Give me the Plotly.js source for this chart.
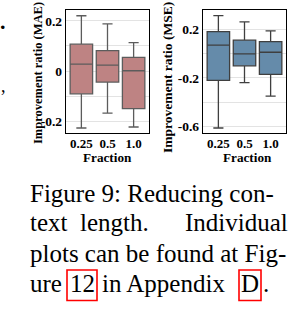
<!DOCTYPE html>
<html><head><meta charset="utf-8">
<script src="https://cdn.plot.ly/plotly-3.0.1.min.js"></script>
<style>html,body{margin:0;padding:0;background:#fff}#chart{width:305px;height:314px}</style>
</head><body><div id="chart"></div>
<script>
const fractions = ['0.25', '0.5', '1.0'];
// MAE improvement ratio
const maeUpper  = [0.220, 0.188, 0.113];
const maeQ3     = [0.107, 0.081, 0.054];
const maeMedian = [0.027, 0.023, 0.001];
const maeQ1     = [-0.091, -0.044, -0.150];
const maeLower  = [-0.227, -0.168, -0.223];
// MSE improvement ratio
const mseUpper  = [0.312, 0.260, 0.186];
const mseQ3     = [0.180, 0.110, 0.098];
const mseMedian = [0.069, -0.003, 0.011];
const mseQ1     = [-0.220, -0.100, -0.170];
const mseLower  = [-0.611, -0.238, -0.350];

const maeTickVals = [-0.2, -0.1, 0, 0.1, 0.2];
const maeTickText = ['-0.2', '', '0', '', '0.2'];
const mseTickVals = [-0.6, -0.4, -0.2, 0, 0.2];
const mseTickText = ['-0.6', '', '-0.2', '', '0.2'];

const W = 305, H = 314;
const px = x => x / W;
const py = y => 1 - y / H;
const serif = 'Liberation Serif, Times New Roman, serif';

const traces = [
  {type: 'box', x: fractions, q1: maeQ1, median: maeMedian, q3: maeQ3,
   lowerfence: maeLower, upperfence: maeUpper, xaxis: 'x', yaxis: 'y',
   fillcolor: 'rgb(190,131,131)', line: {color: '#5c5c5c', width: 1.3},
   boxpoints: false, whiskerwidth: 0.45, width: 0.86, hoverinfo: 'skip'},
  {type: 'box', x: fractions, q1: mseQ1, median: mseMedian, q3: mseQ3,
   lowerfence: mseLower, upperfence: mseUpper, xaxis: 'x2', yaxis: 'y2',
   fillcolor: 'rgb(101,139,170)', line: {color: '#3f3f3f', width: 1.3},
   boxpoints: false, whiskerwidth: 0.45, width: 0.86, hoverinfo: 'skip'}
];

const axFont = {family: serif, size: 13.5, color: '#000', weight: 'bold'};
const xFont = {family: serif, size: 13, color: '#000', weight: 'bold'};
const frame = {showline: true, mirror: true, linecolor: '#000', linewidth: 1.2, zeroline: false};

function ann(text, x, y, xa, size, extra) {
  return Object.assign({text: text, x: px(x), y: py(y), xref: 'paper', yref: 'paper',
    xanchor: xa, yanchor: 'middle', showarrow: false,
    font: {family: serif, size: size, color: '#000'}}, extra || {});
}
const boldF = s => ({font: {family: serif, size: s, color: '#000', weight: 'bold'}});
const CAP = 25;

const layout = {
  width: W, height: H, margin: {l: 0, r: 0, t: 0, b: 0},
  paper_bgcolor: '#fff', plot_bgcolor: '#fff', showlegend: false,
  xaxis: Object.assign({domain: [px(66), px(149)], anchor: 'y', tickfont: xFont,
    ticks: '', showgrid: false, type: 'category', ticklabelstandoff: -2}, frame),
  yaxis: Object.assign({domain: [py(133), py(10)], anchor: 'x', range: [-0.247, 0.243],
    tickvals: maeTickVals, ticktext: maeTickText, tickfont: axFont, ticks: '',
    showgrid: true, gridcolor: '#e3e3e3', gridwidth: 1}, frame),
  xaxis2: Object.assign({domain: [px(203), px(286)], anchor: 'y2', tickfont: xFont,
    ticks: '', showgrid: false, type: 'category', ticklabelstandoff: -2}, frame),
  yaxis2: Object.assign({domain: [py(133), py(10)], anchor: 'x2', range: [-0.652, 0.358],
    tickvals: mseTickVals, ticktext: mseTickText, tickfont: axFont, ticks: '',
    showgrid: true, gridcolor: '#e3e3e3', gridwidth: 1}, frame),
  annotations: [
    ann('Improvement ratio (MAE)', 38, 73, 'center', 12.5, Object.assign({textangle: -90}, boldF(12.5))),
    ann('Improvement ratio (MSE)', 168, 78, 'center', 13.5, Object.assign({textangle: -90}, boldF(13.5))),
    ann('Fraction', 107, 157.5, 'center', 13.2, boldF(13.2)),
    ann('Fraction', 247, 157.5, 'center', 13.2, boldF(13.2)),
    // caption
    ann('Figure 9: Reducing con-', 28, 193, 'left', CAP),
    ann('text  length.', 28, 223, 'left', CAP),
    ann('Individual', 290, 223, 'right', CAP),
    ann('plots can be found at Fig-', 28, 253, 'left', CAP),
    ann('ure', 28, 283, 'left', CAP),
    ann('12', 82, 283, 'center', CAP),
    ann('in Appendix', 100, 283, 'left', CAP),
    ann('D', 250, 283, 'center', CAP),
    ann('.', 261, 283, 'left', CAP),
    // fragments of the neighbouring column
    ann('.', 3, 22, 'center', 22, boldF(22)),
    ann(',', 3, 86, 'center', 18)
  ],
  shapes: [
    {type: 'rect', xref: 'paper', yref: 'paper', x0: px(67), x1: px(97), y0: py(300.5), y1: py(270),
     line: {color: '#ff0000', width: 1.6}},
    {type: 'rect', xref: 'paper', yref: 'paper', x0: px(239), x1: px(261), y0: py(300.5), y1: py(270),
     line: {color: '#ff0000', width: 1.6}}
  ]
};

Plotly.newPlot('chart', traces, layout, {staticPlot: true, displayModeBar: false});
</script></body></html>
